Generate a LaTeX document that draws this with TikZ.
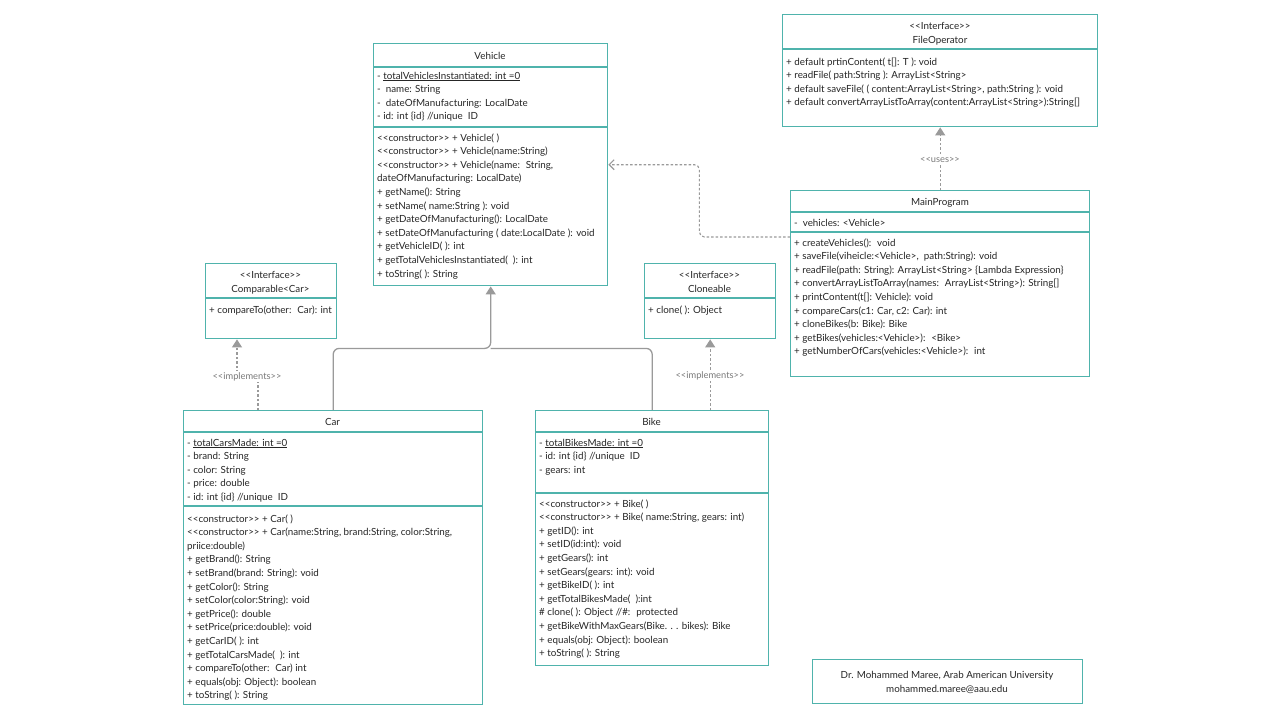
\documentclass[tikz,border=0pt]{standalone}
\usepackage{fontspec}
\setmainfont{Lato}
\usetikzlibrary{arrows.meta,calc}
\definecolor{tealb}{HTML}{4FB3AC}
\definecolor{ink}{HTML}{262626}
\definecolor{conn}{HTML}{9A9A9A}
\definecolor{lblc}{HTML}{7A7A7A}
\newcommand\uo{<{}<}
\newcommand\uc{>{}>}
\newcommand\umllines[4]{%
  \foreach \s [count=\i] in {#4} \node[txt] (#1\i) at (#2,{#3+13.6*(\i-1)}) {\s};}
\tikzset{
  umlbox/.style={draw=tealb, line width=1.4pt, fill=white, inner sep=0pt, anchor=north west},
  sepl/.style={draw=tealb, line width=1.4pt},
  txt/.style={inner sep=0pt, text=ink, anchor=west, text height=6pt, text depth=3pt, yshift=-2.5pt},
  ttl/.style={inner sep=0pt, text=ink, text height=6pt, text depth=3pt, yshift=-2.5pt},
  genl/.style={draw=conn, line width=1.3pt, rounded corners=6pt},
  dashl/.style={draw=conn, line width=1.1pt, dash pattern=on 2.5pt off 2pt},
  tri/.style={-{Triangle[length=8pt,width=10pt,fill=conn]}},
  lbl/.style={fill=white, text=lblc, font=\fontsize{9.3}{11}\selectfont, inner sep=1.5pt, yshift=-1.5pt},
}
\begin{document}
\begin{tikzpicture}[x=1pt,y=-1pt, font=\fontsize{9.8}{12}\selectfont]
\useasboundingbox[fill=white] (0,0) rectangle (1280,720);

% boxes
\node[umlbox, minimum width=234pt, minimum height=242pt] (vehicle) at (373,43) {};
\node[umlbox, minimum width=315pt, minimum height=112pt] (fileop) at (782,14) {};
\node[umlbox, minimum width=299pt, minimum height=186pt] (mainp) at (790,190) {};
\node[umlbox, minimum width=131pt, minimum height=75pt] (compar) at (205,263) {};
\node[umlbox, minimum width=131pt, minimum height=75pt] (clone) at (644,263) {};
\node[umlbox, minimum width=299pt, minimum height=294pt] (car) at (183,410) {};
\node[umlbox, minimum width=233pt, minimum height=255pt] (bike) at (535,410) {};
\node[umlbox, minimum width=270pt, minimum height=44pt] (note) at (812,659) {};

% separators
\draw[sepl] (vehicle.west |- 0,67) -- (vehicle.east |- 0,67);
\draw[sepl] (vehicle.west |- 0,127) -- (vehicle.east |- 0,127);
\draw[sepl] (fileop.west |- 0,49) -- (fileop.east |- 0,49);
\draw[sepl] (mainp.west |- 0,212) -- (mainp.east |- 0,212);
\draw[sepl] (mainp.west |- 0,232) -- (mainp.east |- 0,232);
\draw[sepl] (compar.west |- 0,298) -- (compar.east |- 0,298);
\draw[sepl] (clone.west |- 0,298) -- (clone.east |- 0,298);
\draw[sepl] (car.west |- 0,432) -- (car.east |- 0,432);
\draw[sepl] (car.west |- 0,506) -- (car.east |- 0,506);
\draw[sepl] (bike.west |- 0,432) -- (bike.east |- 0,432);
\draw[sepl] (bike.west |- 0,493) -- (bike.east |- 0,493);

% Vehicle
\node[ttl] (vehicle-t) at (490,55) {Vehicle};
\umllines{va}{377}{75}{{- \underline{totalVehiclesInstantiated: int =0}},{-~ name: String},{-~ dateOfManufacturing: LocalDate},{- id: int \{id\} //unique~ ID}}
\umllines{vm}{377}{137}{{\uo{}constructor\uc{} + Vehicle( )},{\uo{}constructor\uc{} + Vehicle(name:String)},{\uo{}constructor\uc{} + Vehicle(name:~ String,},{dateOfManufacturing: LocalDate)},{+ getName(): String},{+ setName( name:String ): void},{+ getDateOfManufacturing(): LocalDate},{+ setDateOfManufacturing ( date:LocalDate ): void},{+ getVehicleID( ): int},{+ getTotalVehiclesInstantiated(~ ): int},{+ toString( ): String}}

% FileOperator
\node[ttl] (fileop-s) at (940,25) {\uo{}Interface\uc{}};
\node[ttl] (fileop-t) at (940,39) {FileOperator};
\umllines{fm}{786}{61}{{+ default prtinContent( t[]: T ): void},{+ readFile( path:String ): ArrayList<String>},{+ default saveFile( ( content:ArrayList<String>, path:String ): void},{+ default convertArrayListToArray(content:ArrayList<String>):String[]}}

% MainProgram
\node[ttl] (mainp-t) at (940,201) {MainProgram};
\umllines{ma}{794}{222}{{-~ vehicles: <Vehicle>}}
\umllines{mm}{794}{242}{{+ createVehicles():~ void},{+ saveFile(viheicle:<Vehicle>,~ path:String): void},{+ readFile(path: String): ArrayList<String> \{Lambda Expression\}},{+ convertArrayListToArray(names:~ ArrayList<String>): String[]},{+ printContent(t[]: Vehicle): void},{+ compareCars(c1: Car, c2: Car): int},{+ cloneBikes(b: Bike): Bike},{+ getBikes(vehicles:<Vehicle>):~ <Bike>},{+ getNumberOfCars(vehicles:<Vehicle>):~ int}}

% Comparable
\node[ttl] (compar-s) at (270.5,274) {\uo{}Interface\uc{}};
\node[ttl] (compar-t) at (270.5,288) {Comparable<Car>};
\umllines{cpm}{209}{309}{{+ compareTo(other:~ Car): int}}

% Cloneable
\node[ttl] (clone-s) at (709.5,274) {\uo{}Interface\uc{}};
\node[ttl] (clone-t) at (709.5,288) {Cloneable};
\umllines{clm}{648}{309}{{+ clone( ): Object}}

% Car
\node[ttl] (car-t) at (332.5,421) {Car};
\umllines{ca}{187}{442}{{- \underline{totalCarsMade: int =0}},{- brand: String},{- color: String},{- price: double},{- id: int \{id\} //unique~ ID}}
\umllines{cm}{187}{518}{{\uo{}constructor\uc{} + Car( )},{\uo{}constructor\uc{} + Car(name:String, brand:String, color:String,},{priice:double)},{+ getBrand(): String},{+ setBrand(brand: String): void},{+ getColor(): String},{+ setColor(color:String): void},{+ getPrice(): double},{+ setPrice(price:double): void},{+ getCarID( ): int},{+ getTotalCarsMade(~ ): int},{+ compareTo(other:~ Car) int},{+ equals(obj: Object): boolean},{+ toString( ): String}}

% Bike
\node[ttl] (bike-t) at (651.5,421) {Bike};
\umllines{ba}{539}{442}{{- \underline{totalBikesMade: int =0}},{- id: int \{id\} //unique~ ID},{- gears: int}}
\umllines{bm}{539}{503}{{\uo{}constructor\uc{} + Bike( )},{\uo{}constructor\uc{} + Bike( name:String, gears: int)},{+ getID(): int},{+ setID(id:int): void},{+ getGears(): int},{+ setGears(gears: int): void},{+ getBikeID( ): int},{+ getTotalBikesMade(~ ):int},{\# clone( ): Object //\#:~ protected},{+ getBikeWithMaxGears(Bike. . . bikes): Bike},{+ equals(obj: Object): boolean},{+ toString( ): String}}

% note
\node[ttl] (note-1) at (947,674) {Dr. Mohammed Maree, Arab American University};
\node[ttl] (note-2) at (947,688) {mohammed.maree@aau.edu};

% connectors
\coordinate (junc) at ($(vehicle.south)+(0,62)$);
\draw[genl, tri] (car.north) |- (junc) -- (vehicle.south);
\draw[genl] (bike.north) |- (junc);

\coordinate (carimp) at ($(car.north west)+(75,0)$);
\coordinate (compimp) at ($(compar.south west)+(32,0)$);
\draw[dashl, tri] (carimp) -- ++(0,-35) -| (compimp);
\node[lbl] (implab1) at (247,375) {\uo{}implements\uc{}};

\draw[dashl, tri] (bike.north -| clone.south) -- (clone.south);
\node[lbl] (implab2) at (710,374) {\uo{}implements\uc{}};

\draw[dashl, tri] (mainp.north) -- (fileop.south);
\node[lbl] (useslab) at (940,158) {\uo{}uses\uc{}};

\coordinate (mpdep) at ($(mainp.north west)+(0,47)$);
\coordinate (bend) at ($(vehicle.east)+(91,0)$);
\draw[dashl, rounded corners=5pt, -{Straight Barb[length=5pt,width=10pt]}] (mpdep) -| (bend) -- (vehicle.east);
\end{tikzpicture}
\end{document}
